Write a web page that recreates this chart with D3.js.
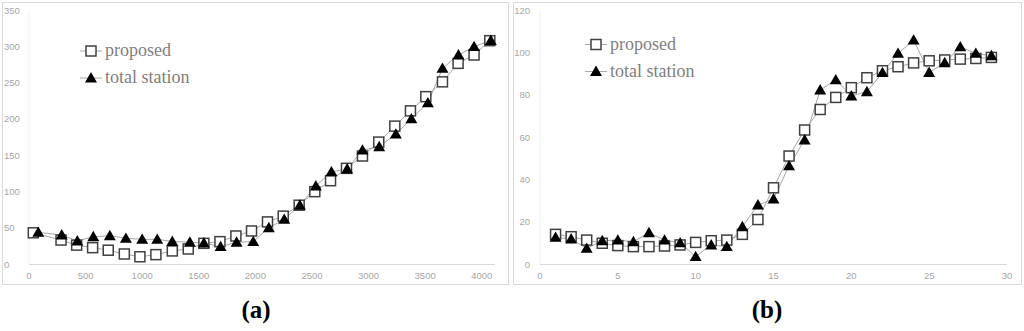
<!DOCTYPE html>
<html><head><meta charset="utf-8">
<script src="https://cdn.jsdelivr.net/npm/d3@7"></script>
<style>body{margin:0;background:#fff}svg{display:block}</style>
</head><body>
<svg id="c" width="1024" height="331"></svg>
<script>
// Panel (a)
const aPropX = [38,283,421,562,700,842,980,1121,1266,1407,1545,1687,1828,1966,2107,2246,2387,2525,2664,2805,2946,3090,3232,3370,3506,3653,3791,3932,4071];
const aPropY = [43,33,26,22.5,19,13.8,10,12.9,18,20.7,28.5,30.8,38.6,45.5,58,66,81,99.7,114.8,131.8,148.8,168,190,211,230.6,251,276.5,288,307.7];
const aStatX = [82,289,427,568,714,856,1000,1133,1266,1421,1545,1693,1834,1981,2119,2255,2393,2534,2672,2811,2946,3094,3241,3378,3524,3653,3794,3932,4080];
const aStatY = [43.6,40,31.7,37.6,39,35.4,34,34,31,30,29,24,30,30.8,50,61.5,81,107.5,127,131,157,161.6,179,200,222,269.6,288,299.5,308];
const aXTicks = [0,500,1000,1500,2000,2500,3000,3500,4000];
const aYTicks = [0,50,100,150,200,250,300,350];
// Panel (b)
const bX = [1,2,3,4,5,6,7,8,9,10,11,12,13,14,15,16,17,18,19,20,21,22,23,24,25,26,27,28,29];
const bProp = [14,12.9,11.3,9.8,8.7,8.2,8.2,8.5,9,10.2,11,11.3,14,21,36,51,63.3,73,78.7,83.3,88,91.3,93.2,95,96,96.4,96.8,97.1,97.6];
const bStat = [12.6,11.8,7.4,11,11.3,10.5,14.8,11.3,10,3.5,9,8.2,17.6,27.9,30.7,46.4,58.6,82.2,87,79.4,81.4,90.4,99.5,105.8,90.5,95.1,102.6,99.5,98.4];
const bXTicks = [0,5,10,15,20,25,30];
const bYTicks = [0,20,40,60,80,100,120];
const seriesNames = ["proposed","total station"];
const captions = ["(a)","(b)"];

const svg = d3.select("#c");
const tri = d3.symbol().type(d3.symbolTriangle).size(62);

function panel(cfg){
  const g = svg.append("g");
  g.append("rect").attr("x",cfg.bx).attr("y",2.5).attr("width",cfg.bw).attr("height",282)
    .attr("fill","#fff").attr("stroke","#d9d9d9").attr("stroke-width",1);
  const x = d3.scaleLinear().domain(cfg.xd).range(cfg.xr);
  const y = d3.scaleLinear().domain(cfg.yd).range([264,10]);
  g.append("line").attr("x1",cfg.xr[0]).attr("x2",cfg.xr[0]).attr("y1",10).attr("y2",264)
    .attr("stroke","#f0f0f0").attr("stroke-width",1);
  g.append("line").attr("x1",cfg.xr[0]).attr("x2",cfg.xr[1]).attr("y1",264.5).attr("y2",264.5)
    .attr("stroke","#d9d9d9").attr("stroke-width",1);
  g.selectAll(".xt").data(cfg.xt).join("text")
    .attr("x",d=>x(d)).attr("y",279).attr("text-anchor","middle")
    .attr("font-family","Liberation Sans, Arial, sans-serif").attr("font-size",9.5).attr("fill","#a6a6a6")
    .text(d=>d);
  g.selectAll(".yt").data(cfg.yt).join("text")
    .attr("x",cfg.ylx).attr("y",d=>y(d)+3.5).attr("text-anchor",cfg.yanchor)
    .attr("font-family","Liberation Sans, Arial, sans-serif").attr("font-size",9.5).attr("fill","#a6a6a6")
    .text(d=>d);
  const line = d3.line().x(d=>x(d[0])).y(d=>y(d[1]));
  const s1 = cfg.px.map((v,i)=>[v,cfg.py[i]]);
  const s2 = cfg.sx.map((v,i)=>[v,cfg.sy[i]]);
  g.append("path").attr("d",line(s1)).attr("fill","none").attr("stroke","#a6a6a6").attr("stroke-width",1);
  g.append("path").attr("d",line(s2)).attr("fill","none").attr("stroke","#a6a6a6").attr("stroke-width",1);
  g.selectAll(".sq").data(s1).join("rect")
    .attr("x",d=>x(d[0])-5).attr("y",d=>y(d[1])-5).attr("width",10).attr("height",10)
    .attr("fill","#fff").attr("stroke","#404040").attr("stroke-width",1.5);
  g.selectAll(".tr").data(s2).join("path")
    .attr("transform",d=>`translate(${x(d[0])},${y(d[1])+1})`).attr("d",tri).attr("fill","#000");
  const lx = cfg.lx, ly = cfg.ly;
  [0,1].forEach(i=>{
    const yy = ly + i*27;
    g.append("line").attr("x1",lx).attr("x2",lx+22).attr("y1",yy).attr("y2",yy).attr("stroke","#a6a6a6");
    if(i===0){
      g.append("rect").attr("x",lx+6).attr("y",yy-5).attr("width",10).attr("height",10)
        .attr("fill","#fff").attr("stroke","#404040").attr("stroke-width",1.5);
    } else {
      g.append("path").attr("transform",`translate(${lx+11},${yy+1})`).attr("d",tri).attr("fill","#000");
    }
    g.append("text").attr("x",lx+25).attr("y",yy+5).attr("font-family","Liberation Serif, Times New Roman, serif")
      .attr("font-size",18).attr("fill","#7f7f7f").text(seriesNames[i]);
  });
  g.append("text").attr("x",cfg.cx).attr("y",318).attr("text-anchor","middle")
    .attr("font-family","Liberation Serif, Times New Roman, serif").attr("font-weight","bold")
    .attr("font-size",25).attr("fill","#000").text(cfg.cap);
}

panel({bx:2.5,bw:506,xd:[0,4117],xr:[29,495],yd:[0,350],xt:aXTicks,yt:aYTicks,ylx:4,yanchor:"start",
  px:aPropX,py:aPropY,sx:aStatX,sy:aStatY,lx:80,ly:51,cx:256,cap:captions[0]});
panel({bx:513.5,bw:508,xd:[0,30],xr:[540,1007],yd:[0,120],xt:bXTicks,yt:bYTicks,ylx:530,yanchor:"end",
  px:bX,py:bProp,sx:bX,sy:bStat,lx:585,ly:44.5,cx:767,cap:captions[1]});
</script>
</body></html>
